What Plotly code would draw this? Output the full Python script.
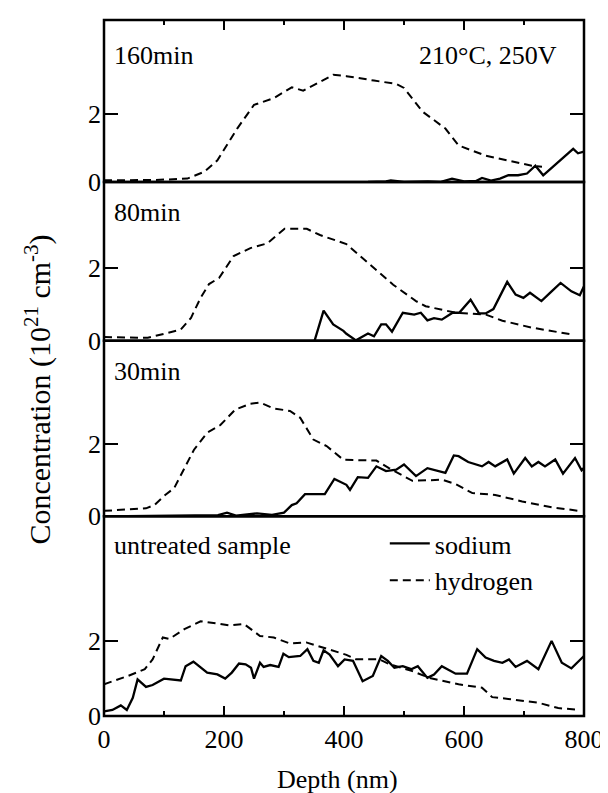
import plotly.graph_objects as go

# ---------------- data ----------------
# Panel 1: 160 min
h1_x = [0, 40, 85, 139, 167, 189, 222, 250, 283, 313, 332, 382, 404, 450, 487, 500, 531, 569, 591, 636, 680, 713, 730]
h1_y = [0.05, 0.06, 0.06, 0.1, 0.3, 0.64, 1.58, 2.28, 2.48, 2.8, 2.7, 3.17, 3.13, 3.0, 2.9, 2.78, 2.08, 1.58, 1.08, 0.78, 0.6, 0.48, 0.45]
s1_x = [440, 470, 478, 500, 540, 560, 580, 600, 620, 630, 645, 660, 674, 690, 705, 719, 732, 748, 765, 782, 790, 800]
s1_y = [0.0, 0.02, 0.05, 0.0, 0.02, 0.0, 0.1, 0.02, 0.03, 0.12, 0.04, 0.1, 0.2, 0.2, 0.25, 0.48, 0.2, 0.45, 0.7, 0.98, 0.85, 0.9]

# Panel 2: 80 min
h2_x = [0, 73, 100, 128, 145, 161, 175, 192, 216, 244, 272, 301, 338, 360, 404, 437, 482, 520, 536, 586, 636, 664, 713, 780]
h2_y = [0.1, 0.08, 0.19, 0.31, 0.63, 1.18, 1.56, 1.73, 2.33, 2.55, 2.68, 3.08, 3.08, 2.91, 2.66, 2.19, 1.54, 1.09, 0.95, 0.77, 0.72, 0.55, 0.36, 0.17]
s2_x = [351, 366, 382, 399, 404, 420, 440, 450, 462, 470, 480, 498, 517, 528, 539, 550, 563, 581, 592, 611, 625, 636, 649, 672, 686, 699, 710, 729, 746, 761, 779, 793, 800]
s2_y = [0, 0.83, 0.45, 0.27, 0.19, 0.01, 0.2, 0.12, 0.45, 0.45, 0.25, 0.77, 0.72, 0.77, 0.56, 0.62, 0.58, 0.77, 0.77, 1.13, 0.75, 0.75, 0.87, 1.62, 1.27, 1.18, 1.32, 1.09, 1.36, 1.59, 1.36, 1.25, 1.5]

# Panel 3: 30 min
h3_x = [0, 70, 84, 102, 117, 134, 150, 172, 194, 219, 244, 260, 283, 310, 327, 349, 371, 399, 454, 475, 514, 564, 586, 614, 652, 697, 746, 796]
h3_y = [0.15, 0.22, 0.31, 0.59, 0.78, 1.33, 1.84, 2.31, 2.52, 2.95, 3.11, 3.14, 2.98, 2.91, 2.72, 2.12, 1.94, 1.56, 1.54, 1.33, 0.98, 1.01, 0.89, 0.64, 0.59, 0.41, 0.25, 0.14]
s3_x = [0, 50, 100, 150, 190, 205, 220, 255, 280, 300, 313, 321, 335, 368, 384, 404, 410, 423, 440, 454, 470, 487, 500, 520, 539, 569, 583, 591, 607, 630, 641, 652, 672, 683, 702, 713, 724, 735, 752, 765, 785, 796, 800]
s3_y = [0.0, 0.01, 0.02, 0.04, 0.03, 0.1, 0.02, 0.08, 0.04, 0.1, 0.31, 0.36, 0.61, 0.61, 1.03, 0.87, 0.73, 1.08, 1.06, 1.38, 1.25, 1.29, 1.43, 1.11, 1.33, 1.2, 1.68, 1.66, 1.5, 1.38, 1.5, 1.38, 1.57, 1.18, 1.61, 1.38, 1.5, 1.38, 1.57, 1.18, 1.61, 1.27, 1.34]

# Panel 4: untreated sample
h4_x = [0, 40, 68, 81, 98, 109, 134, 161, 194, 210, 233, 260, 283, 310, 337, 360, 404, 420, 459, 476, 514, 542, 591, 630, 647, 680, 724, 757, 785]
h4_y = [0.84, 1.06, 1.24, 1.5, 2.08, 2.04, 2.3, 2.51, 2.44, 2.4, 2.44, 2.12, 2.08, 1.92, 1.95, 1.83, 1.62, 1.5, 1.5, 1.37, 1.19, 1.01, 0.84, 0.75, 0.5, 0.44, 0.35, 0.21, 0.17]
s4_x = [0, 14, 28, 38, 48, 56, 70, 81, 100, 111, 128, 136, 149, 172, 189, 202, 213, 225, 236, 245, 250, 260, 266, 277, 291, 299, 308, 327, 339, 349, 358, 366, 376, 390, 401,
        415, 431, 448, 462, 473, 484, 498, 512, 523, 539, 550, 563, 586, 605, 622, 636, 650, 664, 675, 686, 705, 724, 746, 763, 779, 800]
s4_y = [0.12, 0.16, 0.28, 0.16, 0.48, 0.97, 0.77, 0.82, 0.99, 0.97, 0.94, 1.32, 1.44, 1.15, 1.1, 0.99, 1.15, 1.39, 1.37, 1.28, 0.99, 1.41, 1.3, 1.35, 1.3, 1.65, 1.56, 1.59, 1.77, 1.46, 1.41, 1.74, 1.63, 1.32, 1.5,
        1.46, 0.92, 1.06, 1.59, 1.46, 1.28, 1.32, 1.24, 1.32, 1.01, 1.1, 1.32, 1.12, 1.12, 1.77, 1.55, 1.46, 1.41, 1.5, 1.3, 1.46, 1.24, 1.99, 1.41, 1.26, 1.59]

panel_labels = ["160min", "80min", "30min", "untreated sample"]
condition_label = "210°C, 250V"
x_title = "Depth (nm)"
y_title = "Concentration (10<sup>21</sup> cm<sup>-3</sup>)"
x_ticks = [0, 200, 400, 600, 800]
y_ticks = [0, 2]

# ---------------- layout geometry ----------------
W, H = 608, 793
ML, MR, MT, MB = 96, 28, 12, 85
PH = H - MT - MB
PW = W - ML - MR
bounds_px = [12, 174, 332.7, 508.3, 708]
y_tops = [4.79, 4.37, 4.85, 5.29]


def fy(py):
    return (H - MB - py) / PH


def frac(py):
    return min(1.0, max(0.0, fy(py)))


def fx(px):
    return (px - ML) / PW


FONT = "Liberation Serif, Times New Roman, serif"
fig = go.Figure()

hyd = [(h1_x, h1_y), (h2_x, h2_y), (h3_x, h3_y), (h4_x, h4_y)]
sod = [(s1_x, s1_y), (s2_x, s2_y), (s3_x, s3_y), (s4_x, s4_y)]
for i in range(4):
    ya = "y" if i == 0 else f"y{i+1}"
    fig.add_trace(go.Scatter(x=sod[i][0], y=sod[i][1], mode="lines", xaxis="x", yaxis=ya,
                             line=dict(color="black", width=2.3), name="sodium",
                             showlegend=(i == 0), legendrank=1))
    fig.add_trace(go.Scatter(x=hyd[i][0], y=hyd[i][1], mode="lines", xaxis="x", yaxis=ya,
                             line=dict(color="black", width=2, dash="8px,5px"), name="hydrogen",
                             showlegend=(i == 0), legendrank=2))

# invisible trace so the top x axis (ticks on top of the first panel) is drawn
fig.add_trace(go.Scatter(x=[0], y=[0], xaxis="x2", yaxis="y", mode="markers",
                         marker=dict(opacity=0), showlegend=False, hoverinfo="skip"))

layout = dict(
    width=W, height=H, margin=dict(l=ML, r=MR, t=MT, b=MB),
    plot_bgcolor="white", paper_bgcolor="white",
    font=dict(family=FONT, size=26, color="black"),
    showlegend=True,
    legend=dict(x=0.585, y=frac(512), xanchor="left", yanchor="top",
                bgcolor="rgba(0,0,0,0)", font=dict(size=26, family=FONT),
                tracegroupgap=0, itemwidth=40),
    xaxis=dict(range=[0, 800], anchor="y4", tickvals=x_ticks, ticks="inside", ticklen=10,
               tickwidth=2, tickcolor="black", showgrid=False, zeroline=False,
               showline=False, tickfont=dict(size=26, family=FONT), ticklabelstandoff=5,
               minor=dict(dtick=100, tick0=0, ticks="inside", ticklen=5, tickwidth=2, tickcolor="black")),
    xaxis2=dict(range=[0, 800], anchor="y", overlaying="x", side="top", tickvals=x_ticks,
                ticks="inside", ticklen=10, tickwidth=2, tickcolor="black", showticklabels=False,
                showgrid=False, zeroline=False, showline=False,
                minor=dict(dtick=100, tick0=0, ticks="inside", ticklen=5, tickwidth=2, tickcolor="black")),
)
for i in range(4):
    key = "yaxis" if i == 0 else f"yaxis{i+1}"
    layout[key] = dict(
        domain=[frac(bounds_px[i + 1]), frac(bounds_px[i])],
        range=[0, y_tops[i]], anchor="x", tickvals=y_ticks, ticks="inside", ticklen=14,
        tickwidth=2, tickcolor="black", showgrid=False, zeroline=False, showline=False,
        mirror="ticks", tickfont=dict(size=26, family=FONT), ticklabelstandoff=2,
    )
fig.update_layout(**layout)

# panel frames
for i in range(4):
    fig.add_shape(type="rect", xref="paper", yref="paper", x0=0, x1=1,
                  y0=frac(bounds_px[i + 1]), y1=frac(bounds_px[i]),
                  line=dict(color="black", width=2.5), layer="above")

# panel labels
label_px = [47, 204, 363, 537]
for i, t in enumerate(panel_labels):
    fig.add_annotation(text=t, xref="paper", yref="paper", x=fx(104),
                       y=fy(label_px[i]), xanchor="left", yanchor="middle", showarrow=False,
                       font=dict(size=26, family=FONT))
fig.add_annotation(text=condition_label, xref="paper", yref="paper", x=fx(555),
                   y=fy(47), xanchor="right", yanchor="middle", showarrow=False,
                   font=dict(size=26, family=FONT))
# axis titles
fig.add_annotation(text=x_title, xref="paper", yref="paper", x=fx(331), y=fy(771),
                   xanchor="center", yanchor="middle", showarrow=False,
                   font=dict(size=26, family=FONT))
fig.add_annotation(text=y_title, xref="paper", yref="paper",
                   x=fx(30), y=fy(382), xanchor="center", yanchor="middle",
                   textangle=-90, showarrow=False, font=dict(size=30, family=FONT))

fig.write_html("out.html")
